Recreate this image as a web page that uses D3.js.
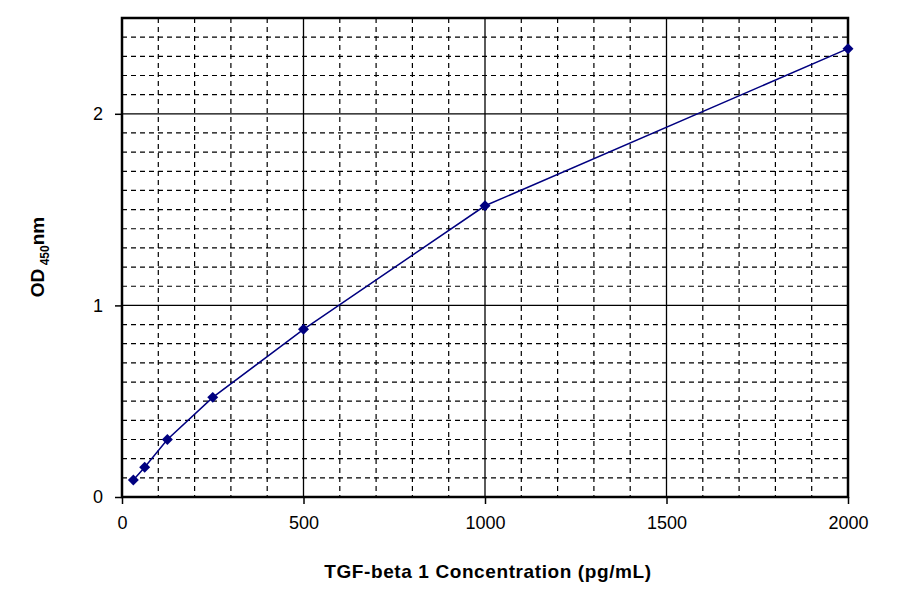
<!DOCTYPE html><html><head><script src="https://d3js.org/d3.v7.min.js"></script>
<style>body{margin:0;background:#fff}text{font-family:"Liberation Sans",Arial,sans-serif}</style></head><body>
<svg id="c" width="900" height="594"></svg>
<script>
const conc=[31.25,62.5,125,250,500,1000,2000];
const od=[0.089,0.155,0.30,0.52,0.875,1.52,2.34];
const xTicks=[0,500,1000,1500,2000];
const yTicks=[0,1,2];
const svg=d3.select("#c");
const L=122,R=848,T=18,B=497;
const x=d3.scaleLinear().domain([0,2000]).range([L,R]);
const y=d3.scaleLinear().domain([0,2.5]).range([B,T]);
const g=svg.append("g");
d3.range(100,2000,100).forEach(v=>{const maj=v%500===0;
 g.append("line").attr("x1",x(v)).attr("x2",x(v)).attr("y1",T).attr("y2",B).attr("stroke","#000").attr("stroke-width",maj?1.3:1.2).attr("stroke-dasharray",maj?null:"5,4");});
d3.range(1,25).forEach(i=>{const v=i/10;const maj=i%10===0;
 g.append("line").attr("x1",L).attr("x2",R).attr("y1",y(v)).attr("y2",y(v)).attr("stroke","#000").attr("stroke-width",maj?1.3:1.2).attr("stroke-dasharray",maj?null:"5,4");});
g.append("rect").attr("x",L).attr("y",T).attr("width",R-L).attr("height",B-T).attr("fill","none").attr("stroke","#000").attr("stroke-width",2.5);
const xa=svg.append("g").attr("transform",`translate(0,${B})`).call(d3.axisBottom(x).tickValues(xTicks).tickSize(7).tickPadding(12).tickFormat(d3.format("d")));
const ya=svg.append("g").attr("transform",`translate(${L},0)`).call(d3.axisLeft(y).tickValues(yTicks).tickSize(7).tickPadding(12).tickFormat(d3.format("d")));
[xa,ya].forEach(a=>{a.select(".domain").remove();a.selectAll("text").attr("font-size",18).attr("fill","#000").style("font-family","Liberation Sans, Arial");a.selectAll("line").attr("stroke","#000").attr("stroke-width",1.5);});
const line=d3.line().x((d,i)=>x(conc[i])).y(d=>y(d));
svg.append("path").datum(od).attr("d",line).attr("fill","none").attr("stroke","#000080").attr("stroke-width",1.5);
svg.selectAll(".pt").data(od).enter().append("path").attr("transform",(d,i)=>`translate(${x(conc[i])},${y(d)}) rotate(45)`)
 .attr("d",d3.symbol(d3.symbolSquare,60)).attr("fill","#000080");
svg.append("text").attr("x",488).attr("y",578).attr("text-anchor","middle").attr("font-size",19).attr("font-weight","bold").attr("letter-spacing",0.6).text("TGF-beta 1 Concentration (pg/mL)");
const yl=svg.append("text").attr("transform","translate(44,257) rotate(-90)").attr("text-anchor","middle").attr("font-size",19).attr("font-weight","bold");
yl.append("tspan").text("OD");yl.append("tspan").attr("font-size",12).attr("dy",5).text(" 450");yl.append("tspan").attr("dy",-5).text("nm");
</script></body></html>
